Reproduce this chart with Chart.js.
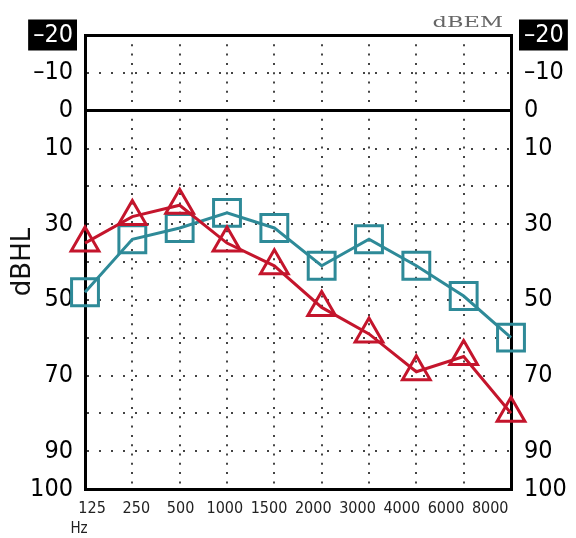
<!DOCTYPE html>
<html>
<head>
<meta charset="utf-8">
<script src="https://cdn.jsdelivr.net/npm/chart.js@4"></script>
<style>
    body { margin: 0; background: #fff; }
</style>
</head>
<body>
<canvas id="chart-js" width="576" height="538"></canvas>
<script>
const frecuencias = ['125', '250', '500', '1000', '1500', '2000', '3000', '4000', '6000', '8000'];
const umbralRojo = [35, 28, 25, 35, 41, 52, 59, 69, 65, 80];
const umbralAzul = [48, 34, 31, 27, 31, 41, 34, 41, 49, 60];
const ticksY = [-20, -10, 0, 10, 30, 50, 70, 90, 100];
const lineasSolidas = [-20, 0];

const fuenteNum = "'Liberation Sans Narrow', 'DejaVu Sans Condensed', 'Arial Narrow', sans-serif";

const etiquetaY = (v) => ticksY.includes(v) ? String(v).replace('-', '\u2013') : '';

const ticksLado = {
    autoSkip: false,
    padding: 12,
    font: { family: fuenteNum, size: 25, lineHeight: 1 },
    color: (c) => c.tick && c.tick.value === -20 ? '#fff' : '#000',
    showLabelBackdrop: (c) => !!c.tick && c.tick.value === -20,
    backdropColor: '#000',
    backdropPadding: { top: 3, bottom: 3, left: 5, right: 4 },
    stepSize: 10,
    callback: etiquetaY
};

// textos sueltos: dBEM arriba, Hz abajo
const textosExtra = {
    id: 'textosExtra',
    afterDraw(chart) {
        const { ctx, chartArea } = chart;
        ctx.save();
        ctx.fillStyle = '#666';
        ctx.font = "15px 'DejaVu Serif'";
        ctx.textAlign = 'right';
        ctx.textBaseline = 'alphabetic';
        ctx.translate(chartArea.right - 8, chartArea.top - 8);
        ctx.scale(1.5, 1);
        ctx.fillText('dBEM', 0, 0);
        ctx.restore();

        ctx.save();
        ctx.fillStyle = '#222';
        ctx.font = "15px " + fuenteNum;
        ctx.textAlign = 'center';
        ctx.textBaseline = 'alphabetic';
        ctx.fillText('Hz', chartArea.left - 6, chart.height - 5);
        ctx.restore();
    }
};

const data = {
    labels: frecuencias,
    datasets: [
        {
            label: 'Rojo',
            data: umbralRojo,
            borderColor: '#c4152c',
            borderWidth: 3,
            pointStyle: 'triangle',
            pointRadius: 16,
            pointBorderWidth: 3,
            pointBorderColor: '#c4152c',
            pointBackgroundColor: 'transparent',
            tension: 0,
            clip: false,
            xAxisID: 'x',
            yAxisID: 'y'
        },
        {
            label: 'Azul',
            data: umbralAzul,
            borderColor: '#2e8a98',
            borderWidth: 3,
            pointStyle: 'rect',
            pointRadius: 19,
            pointBorderWidth: 3,
            pointBorderColor: '#2e8a98',
            pointBackgroundColor: 'transparent',
            tension: 0,
            clip: false,
            xAxisID: 'x',
            yAxisID: 'y'
        }
    ]
};

const config = {
    type: 'line',
    data: data,
    plugins: [textosExtra],
    options: {
        responsive: false,
        animation: false,
        layout: { padding: { top: 35, left: 0, right: 0, bottom: 0 } },
        plugins: {
            legend: { display: false },
            tooltip: { enabled: false }
        },
        scales: {
            x: {
                type: 'category',
                position: 'bottom',
                weight: 0,
                offset: false,
                grid: { color: '#444', lineWidth: 2, drawTicks: false },
                border: { display: true, color: '#000', width: 3, dash: [2, 7.3] },
                ticks: { display: false },
                afterFit: (s) => { s.height = 0; }
            },
            x2: {
                type: 'linear',
                position: 'bottom',
                weight: 1,
                min: -0.16,
                max: 9.47,
                grid: { display: false, drawTicks: false },
                border: { display: false },
                ticks: {
                    autoSkip: false,
                    maxRotation: 0,
                    padding: 10,
                    color: '#222',
                    font: { family: fuenteNum, size: 16 },
                    callback: (v) => frecuencias[v]
                },
                afterBuildTicks: (s) => { s.ticks = frecuencias.map((f, i) => ({ value: i })); },
                afterFit: (s) => { s.height = 49; }
            },
            y: {
                type: 'linear',
                position: 'left',
                reverse: true,
                min: -20,
                max: 100,
                grid: { color: '#444', lineWidth: 2, drawTicks: false },
                border: { display: true, color: '#000', width: 3, dash: [2, 10] },
                ticks: Object.assign({}, ticksLado),
                title: {
                    display: true,
                    text: 'dBHL',
                    color: '#111',
                    font: { family: "'DejaVu Sans'", size: 26 },
                    padding: { top: 8, bottom: 0 }
                },
                afterFit: (s) => { s.width = 85; }
            },
            y2: {
                type: 'linear',
                position: 'right',
                reverse: true,
                min: -20,
                max: 100,
                grid: {
                    drawTicks: false,
                    lineWidth: 3,
                    color: (c) => c.tick && lineasSolidas.includes(c.tick.value) ? '#000' : 'transparent'
                },
                border: { display: true, color: '#000', width: 3 },
                ticks: Object.assign({}, ticksLado, { padding: 13 }),
                afterFit: (s) => { s.width = 65; }
            }
        }
    }
};

const ctx = document.getElementById('chart-js');
if (ctx) new Chart(ctx, config);
</script>
</body>
</html>
